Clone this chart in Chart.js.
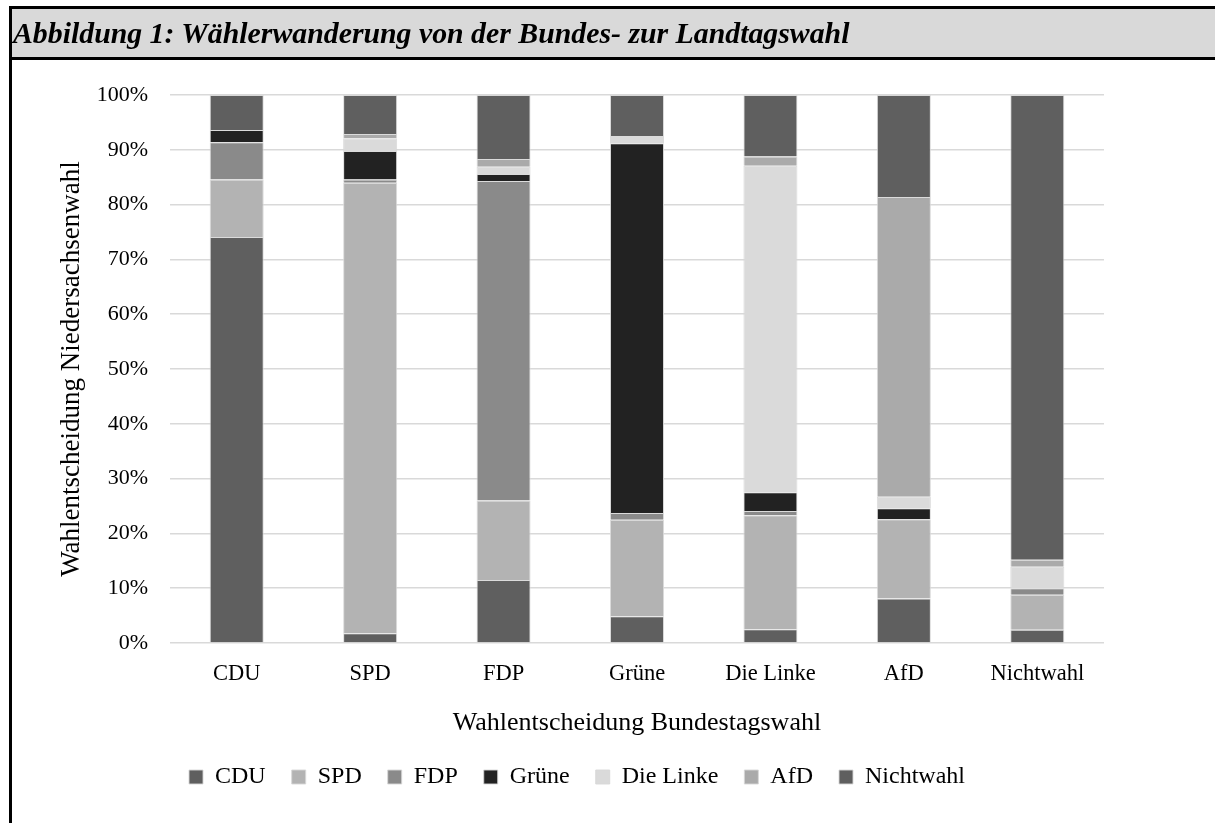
<!DOCTYPE html>
<html>
<head>
<meta charset="utf-8">
<script src="https://cdn.jsdelivr.net/npm/chart.js@4"></script>
<style>
  html, body { margin: 0; padding: 0; background: #fff; }
  #wrap { position: relative; width: 1215px; height: 823px; overflow: hidden; }
  #frame { position: absolute; left: 9px; top: 6px; right: -10px; bottom: -10px;
           border-left: 3px solid #000; border-top: 3px solid #000; }
  #head { position: absolute; left: 12px; top: 9px; right: -10px; height: 48px;
          background: #d9d9d9; border-bottom: 3px solid #000;
          font: italic bold 29.8px "Liberation Serif", serif; color: #000;
          line-height: 48px; padding-left: 1px; white-space: nowrap; }
  canvas { position: absolute; left: 0; top: 0; }
</style>
</head>
<body>
<div id="wrap">
  <canvas id="myChart" width="1215" height="823"></canvas>
  <div id="frame"></div>
  <div id="head">Abbildung 1: Wählerwanderung von der Bundes- zur Landtagswahl</div>
</div>
<script>
// Bundestagswahl -> Landtagswahl (Anteile in %)
const categories = ['CDU', 'SPD', 'FDP', 'Grüne', 'Die Linke', 'AfD', 'Nichtwahl'];
const seriesNames = ['CDU', 'SPD', 'FDP', 'Grüne', 'Die Linke', 'AfD', 'Nichtwahl'];
const cduValues = [74.1, 1.8, 11.5, 4.9, 2.5, 8.1, 2.4];
const spdValues = [10.5, 82.2, 14.5, 17.6, 20.8, 14.5, 6.4];
const fdpValues = [6.8, 0.6, 58.3, 1.2, 0.8, 0, 1.2];
const grueneValues = [2.2, 5.2, 1.3, 67.5, 3.4, 2.0, 0];
const linkeValues = [0, 2.3, 1.3, 1.3, 59.6, 2.1, 3.9];
const afdValues = [0, 0.8, 1.4, 0, 1.7, 54.7, 1.3];
const nichtwahlValues = [6.4, 7.1, 11.7, 7.5, 11.2, 18.6, 84.8];
const yTicks = [0, 10, 20, 30, 40, 50, 60, 70, 80, 90, 100];

const colors = ['#5f5f5f', '#b3b3b3', '#8a8a8a', '#222222', '#dadada', '#aaaaaa', '#5f5f5f'];
const allValues = [cduValues, spdValues, fdpValues, grueneValues, linkeValues, afdValues, nichtwahlValues];

const serif = '"Liberation Serif", "Times New Roman", serif';

document.addEventListener('DOMContentLoaded', () => {
  const ctx = document.getElementById('myChart');
  new Chart(ctx, {
    type: 'bar',
    data: {
      labels: categories,
      datasets: seriesNames.map((name, i) => ({
        label: name,
        data: allValues[i],
        backgroundColor: colors[i],
        borderColor: 'rgba(215,215,215,0.9)',
        borderWidth: 1,
        categoryPercentage: 1,
        barPercentage: 0.405
      }))
    },
    options: {
      responsive: false,
      animation: false,
      layout: { padding: { left: 50, right: 111, top: 95, bottom: 24 } },
      plugins: {
        tooltip: { enabled: false },
        legend: {
          position: 'bottom',
          labels: {
            font: { family: serif, size: 24 },
            color: '#000',
            boxWidth: 14,
            boxHeight: 14,
            padding: 26
          }
        }
      },
      scales: {
        x: {
          stacked: true,
          grid: { display: false },
          border: { display: false },
          ticks: { font: { family: serif, size: 22.5 }, color: '#000', padding: 10 },
          title: {
            display: true,
            text: 'Wahlentscheidung Bundestagswahl',
            font: { family: serif, size: 26 },
            color: '#000',
            padding: { top: 0, bottom: 0 }
          },
          afterFit: s => { s.height = 96; }
        },
        y: {
          stacked: true,
          min: 0,
          max: 100,
          afterBuildTicks: s => { s.ticks = yTicks.map(v => ({ value: v })); },
          grid: { color: '#d9d9d9', lineWidth: 1.5, drawTicks: false },
          border: { display: false },
          ticks: {
            font: { family: serif, size: 22 },
            color: '#000',
            padding: 22,
            callback: v => v + '%'
          },
          title: {
            display: true,
            text: 'Wahlentscheidung Niedersachsenwahl',
            font: { family: serif, size: 27 },
            color: '#000',
            padding: { top: 6, bottom: 0 }
          },
          afterFit: s => { s.width = 120; }
        }
      }
    }
  });
});
</script>
</body>
</html>
